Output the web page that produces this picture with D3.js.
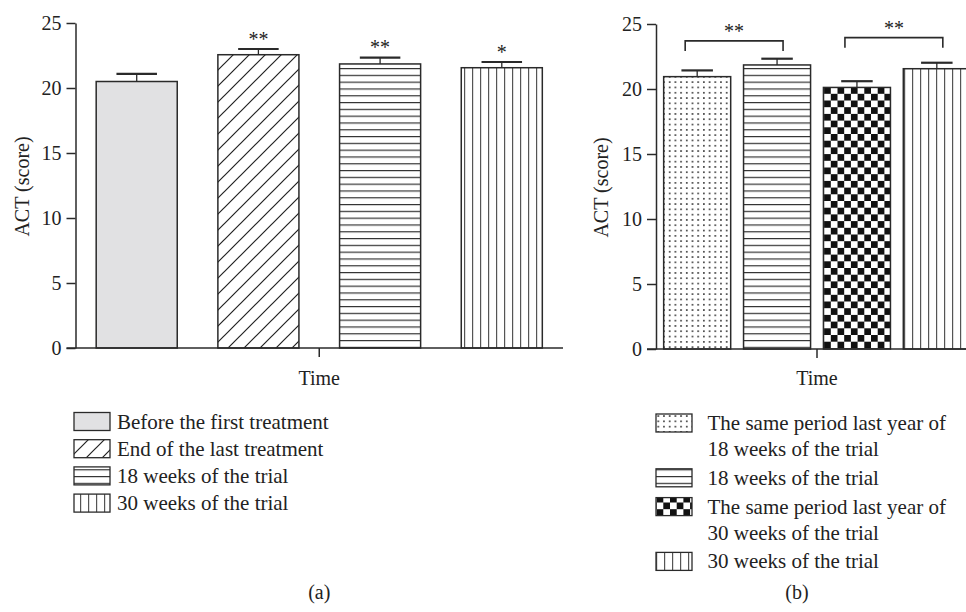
<!DOCTYPE html>
<html>
<head>
<meta charset="utf-8">
<script src="https://cdn.jsdelivr.net/npm/d3@7"></script>
<style>
  html, body { margin: 0; padding: 0; background: #fff; }
  svg { display: block; }
  text { font-family: "Liberation Serif", "DejaVu Serif", serif; fill: #222; }
</style>
</head>
<body>
<svg id="chart" width="966" height="612"></svg>
<script>
// panel (a)
const aLabels = ["Before the first treatment", "End of the last treatment", "18 weeks of the trial", "30 weeks of the trial"];
const aMeans = [20.5, 22.56, 21.85, 21.56];
const aErrors = [0.58, 0.44, 0.48, 0.44];
const aStars = ["", "**", "**", "*"];

// panel (b)
const bLabels = [
  ["The same period last year of", "18 weeks of the trial"],
  ["18 weeks of the trial"],
  ["The same period last year of", "30 weeks of the trial"],
  ["30 weeks of the trial"]
];
const bMeans = [20.95, 21.85, 20.12, 21.56];
const bErrors = [0.48, 0.48, 0.48, 0.46];
const bBrackets = [
  { from: 0, to: 1, level: 23.7, label: "**" },
  { from: 2, to: 3, level: 23.95, label: "**" }
];

const yTicks = [0, 5, 10, 15, 20, 25];
const xTitle = "Time";
const yTitle = "ACT (score)";

const INK = "#2a2a2a";
const svg = d3.select("#chart");
const defs = svg.append("defs");

// fill patterns
function pattern(id, w, h, draw) {
  const p = defs.append("pattern")
    .attr("id", id)
    .attr("patternUnits", "userSpaceOnUse")
    .attr("width", w)
    .attr("height", h);
  p.append("rect").attr("width", w).attr("height", h).attr("fill", "#fff");
  draw(p, w, h);
}

pattern("diag", 16, 16, (p, w, h) => {
  p.append("path")
    .attr("d", `M0,${h} L${w},0 M${-w / 2},${h / 2} L${w / 2},${-h / 2} M${w / 2},${h * 1.5} L${w * 1.5},${h / 2}`)
    .attr("stroke", "#222").attr("stroke-width", 1.2);
});
pattern("hstripe", 10, 6.8, (p, w) => {
  p.append("line").attr("x1", 0).attr("x2", w).attr("y1", 0.6).attr("y2", 0.6)
    .attr("stroke", "#333").attr("stroke-width", 1.2);
});
pattern("vstripe", 8, 10, (p, w, h) => {
  p.append("line").attr("x1", 0.6).attr("x2", 0.6).attr("y1", 0).attr("y2", h)
    .attr("stroke", "#555").attr("stroke-width", 1.2);
});
pattern("dots", 5.7, 5.3, (p) => {
  p.append("circle").attr("cx", 2.8).attr("cy", 2.6).attr("r", 0.85).attr("fill", "#111");
});
pattern("checker", 13.4, 13.4, (p) => {
  p.append("rect").attr("x", 0).attr("y", 0).attr("width", 6.7).attr("height", 6.7).attr("fill", "#111");
  p.append("rect").attr("x", 6.7).attr("y", 6.7).attr("width", 6.7).attr("height", 6.7).attr("fill", "#111");
});

const aFills = ["#e1e1e3", "url(#diag)", "url(#hstripe)", "url(#vstripe)"];
const bFills = ["url(#dots)", "url(#hstripe)", "url(#checker)", "url(#vstripe)"];

function drawPanel(opts) {
  const { means, errors, fills, xRange, yRange, paddingInner, paddingOuter, capFrac, titleX } = opts;
  const g = svg.append("g");

  const x = d3.scaleBand()
    .domain(d3.range(means.length))
    .range(xRange)
    .paddingInner(paddingInner)
    .paddingOuter(paddingOuter);

  const y = d3.scaleLinear().domain([0, 25]).range(yRange);

  // bars
  g.selectAll(".bar")
    .data(means)
    .enter()
    .append("rect")
    .attr("class", "bar")
    .attr("x", (d, i) => x(i))
    .attr("y", (d) => y(d))
    .attr("width", x.bandwidth())
    .attr("height", (d) => y(0) - y(d))
    .attr("fill", (d, i) => fills[i])
    .attr("stroke", INK)
    .attr("stroke-width", 1.5);

  // error bars (upper only)
  const cap = x.bandwidth() * capFrac;
  means.forEach((m, i) => {
    const cx = x(i) + x.bandwidth() / 2;
    g.append("line")
      .attr("x1", cx).attr("x2", cx)
      .attr("y1", y(m)).attr("y2", y(m + errors[i]))
      .attr("stroke", INK).attr("stroke-width", 1.3);
    g.append("line")
      .attr("x1", cx - cap / 2).attr("x2", cx + cap / 2)
      .attr("y1", y(m + errors[i])).attr("y2", y(m + errors[i]))
      .attr("stroke", INK).attr("stroke-width", 2.2);
  });

  // y axis
  const yAxis = g.append("g")
    .attr("transform", `translate(${xRange[0]},0)`)
    .call(d3.axisLeft(y).tickValues(yTicks).tickSize(9).tickSizeOuter(0).tickPadding(5));
  yAxis.select(".domain").attr("stroke", INK).attr("stroke-width", 1.5);
  yAxis.selectAll(".tick line").attr("stroke", INK).attr("stroke-width", 1.5);
  yAxis.selectAll(".tick text")
    .attr("font-family", "Liberation Serif")
    .attr("font-size", 20)
    .attr("fill", "#222");

  // x axis: single centred tick
  const xMid = (xRange[0] + xRange[1]) / 2;
  g.append("line")
    .attr("x1", xRange[0] - 9).attr("x2", xRange[1])
    .attr("y1", y(0)).attr("y2", y(0))
    .attr("stroke", INK).attr("stroke-width", 1.5);
  g.append("line")
    .attr("x1", xMid).attr("x2", xMid)
    .attr("y1", y(0)).attr("y2", y(0) + 9)
    .attr("stroke", INK).attr("stroke-width", 1.5);

  g.append("text")
    .attr("x", xMid).attr("y", 378)
    .attr("text-anchor", "middle").attr("dominant-baseline", "central")
    .attr("font-size", 20)
    .text(xTitle);

  g.append("text")
    .attr("transform", `translate(${titleX},${(yRange[0] + yRange[1]) / 2 + 1}) rotate(-90)`)
    .attr("text-anchor", "middle").attr("dominant-baseline", "central")
    .attr("font-size", 20)
    .text(yTitle);

  return { g, x, y, xMid };
}

// ---- panel (a)
const A = drawPanel({
  means: aMeans, errors: aErrors, fills: aFills,
  xRange: [75.5, 563], yRange: [348, 23],
  paddingInner: 0.334, paddingOuter: 0.17, capFrac: 0.5, titleX: 22
});

A.g.selectAll(".star")
  .data(aStars)
  .enter()
  .append("text")
  .attr("class", "star")
  .attr("x", (d, i) => A.x(i) + A.x.bandwidth() / 2)
  .attr("y", (d, i) => A.y(aMeans[i] + aErrors[i]) - 3.5)
  .attr("text-anchor", "middle")
  .attr("font-size", 20)
  .text((d) => d);

// ---- panel (b)
const B = drawPanel({
  means: bMeans, errors: bErrors, fills: bFills,
  xRange: [656, 978], yRange: [349, 24],
  paddingInner: 0.161, paddingOuter: 0.096, capFrac: 0.47, titleX: 601
});

bBrackets.forEach((br) => {
  const x1 = B.x(br.from) + B.x.bandwidth() / 2 - 12;
  const x2 = B.x(br.to) + B.x.bandwidth() / 2 + 6;
  const yb = B.y(br.level);
  B.g.append("path")
    .attr("d", `M${x1},${yb + 10} V${yb} H${x2} V${yb + 10}`)
    .attr("fill", "none")
    .attr("stroke", INK)
    .attr("stroke-width", 1.6);
  B.g.append("text")
    .attr("x", (x1 + x2) / 2)
    .attr("y", yb - 3)
    .attr("text-anchor", "middle")
    .attr("font-size", 20)
    .text(br.label);
});

// ---- legends
function swatch(g, x, yc, fill) {
  g.append("rect")
    .attr("x", x).attr("y", yc - 9)
    .attr("width", 36).attr("height", 18)
    .attr("fill", fill)
    .attr("stroke", INK)
    .attr("stroke-width", 1.3);
}

const legA = svg.append("g");
aLabels.forEach((label, i) => {
  const yc = 421.5 + i * 27.2;
  swatch(legA, 74, yc, aFills[i]);
  legA.append("text")
    .attr("x", 117).attr("y", yc)
    .attr("dominant-baseline", "central")
    .attr("font-size", 21)
    .text(label);
});

const legB = svg.append("g");
let yCursor = 423;
bLabels.forEach((lines, i) => {
  swatch(legB, 656, yCursor, bFills[i]);
  lines.forEach((line, j) => {
    legB.append("text")
      .attr("x", 707.5).attr("y", yCursor + j * 26)
      .attr("dominant-baseline", "central")
      .attr("font-size", 21)
      .text(line);
  });
  yCursor += lines.length * 26 + 2.8;
});

// panel captions
svg.append("text")
  .attr("x", A.xMid).attr("y", 592)
  .attr("text-anchor", "middle").attr("dominant-baseline", "central")
  .attr("font-size", 20)
  .text("(a)");
svg.append("text")
  .attr("x", 797).attr("y", 592)
  .attr("text-anchor", "middle").attr("dominant-baseline", "central")
  .attr("font-size", 20)
  .text("(b)");
</script>
</body>
</html>
